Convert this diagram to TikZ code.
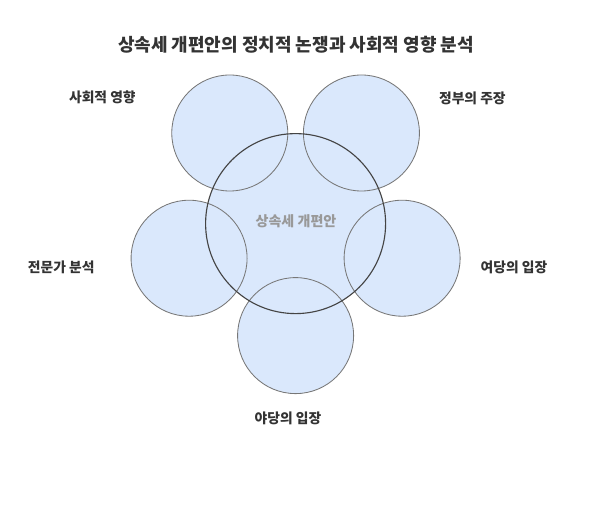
\documentclass[tikz,border=0pt]{standalone}
\usepackage{fontspec}
\setmainfont{Noto Sans CJK KR}
\definecolor{circlefill}{HTML}{DAE8FC}
\definecolor{circleline}{HTML}{777777}
\definecolor{coreline}{HTML}{444444}
\definecolor{labeltext}{HTML}{333333}
\usetikzlibrary{positioning,calc}

\begin{document}
\begin{tikzpicture}[
    petal/.style={circle, minimum size=2.9cm, inner sep=0pt},
    core/.style={circle, minimum size=4.5cm, inner sep=0pt},
    lbl/.style={font=\fontsize{9.8}{11}\selectfont\bfseries, text=labeltext}
  ]
    \useasboundingbox (0,0) rectangle (15,-12.75);

    % Centre of the pentagon
    \coordinate (C) at (7.39,-5.59);

    % Outer circles (fill only, outlines drawn afterwards)
    \node[petal, fill=circlefill] (social) at ($(C)+(126:2.8)$) {};
    \node[petal, fill=circlefill] (govt)   at ($(C)+(54:2.8)$) {};
    \node[petal, fill=circlefill] (expert) at ($(C)+(198:2.8)$) {};
    \node[petal, fill=circlefill] (ruling) at ($(C)+(-18:2.8)$) {};
    \node[petal, fill=circlefill] (opposition) at ($(C)+(-90:2.8)$) {};
    \node[core, fill=circlefill] (tax) at (C) {};

    % Outlines on top of all fills
    \foreach \n in {social,govt,expert,ruling,opposition}
        \draw[circleline, line width=0.6pt] (\n.center) circle (1.45);
    \draw[coreline, line width=0.8pt] (tax.center) circle (2.25);

    % Centre label
    \node[font=\fontsize{10}{12}\selectfont\bfseries, text=gray!80] (taxlbl) at (7.4,-5.54) {상속세 개편안};

    % Outer labels
    \node[lbl] (sociallbl) at (2.56,-2.43) {사회적 영향};
    \node[lbl] (govtlbl) at (11.81,-2.46) {정부의 주장};
    \node[lbl] (expertlbl) at (1.53,-6.69) {전문가 분석};
    \node[lbl] (rulinglbl) at (12.85,-6.69) {여당의 입장};
    \node[lbl] (oppositionlbl) at (7.2,-10.45) {야당의 입장};

    % Title
    \node[font=\fontsize{12.8}{15}\selectfont\bfseries, text=labeltext] (title) at (7.4,-1.125)
        {상속세 개편안의 정치적 논쟁과 사회적 영향 분석};
\end{tikzpicture}
\end{document}
